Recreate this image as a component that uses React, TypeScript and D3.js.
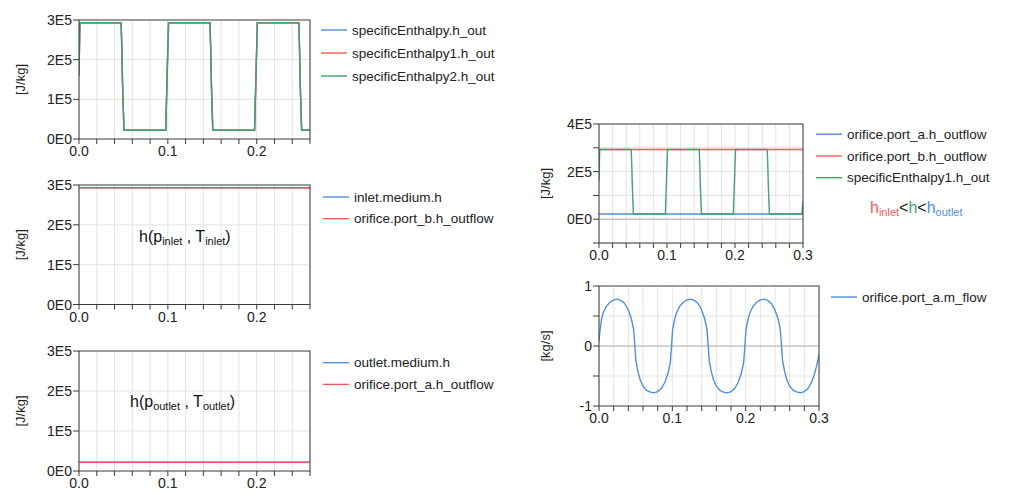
import React from 'react';
import * as d3 from 'd3';

// ---- data ----

// square-wave enthalpy (specificEnthalpy / specificEnthalpy1 / specificEnthalpy2 .h_out)
const squareTime = [
  0, 0.0005, 0.001,
  0.0474, 0.0482, 0.049, 0.0498, 0.0506,
  0.0976, 0.0984, 0.0992, 0.1, 0.1008,
  0.1474, 0.1482, 0.149, 0.1498, 0.1506,
  0.1976, 0.1984, 0.1992, 0.2, 0.2008,
  0.2474, 0.2482, 0.249, 0.2498, 0.2506,
  0.2985, 0.3,
];
const squareValues = [
  1.6e5, 2.3e5, 2.93e5,
  2.93e5, 2.3e5, 1.4e5, 0.8e5, 0.22e5,
  0.22e5, 0.9e5, 1.6e5, 2.3e5, 2.93e5,
  2.93e5, 2.3e5, 1.4e5, 0.8e5, 0.22e5,
  0.22e5, 0.9e5, 1.6e5, 2.3e5, 2.93e5,
  2.93e5, 2.3e5, 1.4e5, 0.8e5, 0.22e5,
  0.22e5, 0.75e5,
];

// constant enthalpies
const constTime = [0, 0.3];
const inletH = [2.93e5, 2.93e5];
const outletH = [0.22e5, 0.22e5];

// orifice.port_a.m_flow
const flowTime = [
  0, 0.001, 0.0035, 0.006, 0.01, 0.015, 0.02, 0.025, 0.03, 0.035, 0.04, 0.044, 0.0472, 0.0488, 0.0503,
  0.053, 0.056, 0.06, 0.065, 0.07, 0.075, 0.08, 0.085, 0.09, 0.094, 0.0972, 0.0988, 0.1003,
  0.103, 0.106, 0.11, 0.115, 0.12, 0.125, 0.13, 0.135, 0.14, 0.144, 0.1472, 0.1488, 0.1503,
  0.153, 0.156, 0.16, 0.165, 0.17, 0.175, 0.18, 0.185, 0.19, 0.194, 0.1972, 0.1988, 0.2003,
  0.203, 0.206, 0.21, 0.215, 0.22, 0.225, 0.23, 0.235, 0.24, 0.244, 0.2472, 0.2488, 0.2503,
  0.253, 0.256, 0.26, 0.265, 0.27, 0.275, 0.28, 0.285, 0.29, 0.294, 0.297, 0.3,
];
const flowValues = [
  0.08, 0.22, 0.45, 0.56, 0.66, 0.73, 0.77, 0.78, 0.76, 0.71, 0.6, 0.46, 0.28, 0.02, -0.24,
  -0.42, -0.56, -0.67, -0.74, -0.77, -0.78, -0.76, -0.71, -0.6, -0.46, -0.28, -0.02, 0.26,
  0.44, 0.56, 0.66, 0.73, 0.77, 0.78, 0.76, 0.71, 0.6, 0.46, 0.28, 0.02, -0.24,
  -0.42, -0.56, -0.67, -0.74, -0.77, -0.78, -0.76, -0.71, -0.6, -0.46, -0.28, -0.02, 0.26,
  0.44, 0.56, 0.66, 0.73, 0.77, 0.78, 0.76, 0.71, 0.6, 0.46, 0.28, 0.02, -0.24,
  -0.42, -0.56, -0.67, -0.74, -0.77, -0.78, -0.76, -0.71, -0.6, -0.46, -0.32, -0.15,
];

// tick labels
const hTicks = [0, 1e5, 2e5, 3e5];
const hTickLabels = ['0E0', '1E5', '2E5', '3E5'];
const hTicksRight = [0, 2e5, 4e5];
const hTickLabelsRight = ['0E0', '2E5', '4E5'];
const hMinorRight = [-1e5, 1e5, 3e5];
const flowTicks = [-1, 0, 1];
const flowTickLabels = ['-1', '0', '1'];
const flowMinor = [-0.5, 0.5];

const BLUE = '#4f8fdc';
const RED = '#f25b5b';
const GREEN = '#3ea46c';
const FONT = "'Liberation Sans', Arial, sans-serif";

type Series = { name: string; t: number[]; v: number[]; color: string };

interface PanelProps {
  id: string;
  left: number; right: number; top: number; bottom: number;
  xMax: number;
  xLabels: number[];
  yDomain: [number, number];
  yTicks: number[];
  yTickLabels: string[];
  yMinor?: number[];
  yGrid: number[];
  zeroLine?: boolean;
  yLabel: string;
  yLabelX: number;
  series: Series[];
  legendX: number;
  legendY: number;
  legendStep: number;
  children?: React.ReactNode;
}

function Panel(p: PanelProps) {
  const x = d3.scaleLinear().domain([0, p.xMax]).range([p.left, p.right]);
  const y = d3.scaleLinear().domain(p.yDomain).range([p.bottom, p.top]);
  const xGrid = d3.range(0, p.xMax + 1e-9, 0.02);
  const line = d3.line<[number, number]>().x(d => x(d[0])).y(d => y(d[1]));
  const fmt = d3.format('.1f');
  const cy = (p.top + p.bottom) / 2;

  return (
    <g>
      <defs>
        <clipPath id={`clip-${p.id}`}>
          <rect x={p.left} y={p.top - 1} width={p.right - p.left} height={p.bottom - p.top + 2} />
        </clipPath>
      </defs>
      {/* grid */}
      {xGrid.map(v => (
        <line key={'gx' + v} x1={x(v)} x2={x(v)} y1={p.top} y2={p.bottom} stroke="#e4e4e4" />
      ))}
      {p.yGrid.map(v => (
        <line key={'gy' + v} x1={p.left} x2={p.right} y1={y(v)} y2={y(v)}
          stroke={p.zeroLine && v === 0 ? '#c4c4c4' : '#e4e4e4'} strokeWidth={p.zeroLine && v === 0 ? 1.5 : 1} />
      ))}
      {/* series */}
      <g clipPath={`url(#clip-${p.id})`}>
        {p.series.map(s => (
          <path key={s.name} d={line(s.t.map((t, i) => [t, s.v[i]] as [number, number])) || ''}
            fill="none" stroke={s.color} strokeWidth={1.4} />
        ))}
      </g>
      {/* frame */}
      <rect x={p.left} y={p.top} width={p.right - p.left} height={p.bottom - p.top}
        fill="none" stroke="#3a3a3a" strokeWidth={1} />
      {/* x axis */}
      {xGrid.map(v => (
        <line key={'tx' + v} x1={x(v)} x2={x(v)} y1={p.bottom} y2={p.bottom + 5} stroke="#3a3a3a" />
      ))}
      {p.xLabels.map(v => (
        <text key={'lx' + v} x={x(v)} y={p.bottom + 17} textAnchor="middle" fontSize={14}
          fontFamily={FONT} fill="#222">{fmt(v)}</text>
      ))}
      {/* y axis */}
      {p.yTicks.concat(p.yMinor || []).map(v => (
        <line key={'ty' + v} x1={p.left - 6} x2={p.left} y1={y(v)} y2={y(v)} stroke="#3a3a3a" />
      ))}
      {p.yTicks.map((v, i) => (
        <text key={'ly' + v} x={p.left - 7} y={y(v)} dy="0.36em" textAnchor="end" fontSize={14}
          fontFamily={FONT} fill="#222">{p.yTickLabels[i]}</text>
      ))}
      <text transform={`translate(${p.yLabelX},${cy}) rotate(-90)`} textAnchor="middle" dy="0.35em"
        fontSize={13} fontFamily={FONT} fill="#222">{p.yLabel}</text>
      {/* legend */}
      {p.series.map((s, i) => (
        <g key={'lg' + s.name} transform={`translate(${p.legendX},${p.legendY + i * p.legendStep})`}>
          <line x1={0} x2={26} y1={0} y2={0} stroke={s.color} strokeWidth={1.4} />
          <text x={31} y={0} dy="0.35em" fontSize={13.5} fontFamily={FONT} fill="#222">{s.name}</text>
        </g>
      ))}
      {p.children}
    </g>
  );
}

export default function App() {
  const leftCommon = {
    left: 79, right: 310, xMax: 0.26, xLabels: [0, 0.1, 0.2],
    yDomain: [0, 3e5] as [number, number], yTicks: hTicks, yTickLabels: hTickLabels,
    yGrid: [1e5, 2e5], yLabel: '[J/kg]', yLabelX: 20,
  };
  return (
    <svg width={1024} height={498} style={{ position: 'absolute', left: 0, top: 0, background: '#fff' }}>
      <Panel id="p1" {...leftCommon} top={20} bottom={139}
        series={[
          { name: 'specificEnthalpy.h_out', t: squareTime, v: squareValues, color: BLUE },
          { name: 'specificEnthalpy1.h_out', t: squareTime, v: squareValues, color: RED },
          { name: 'specificEnthalpy2.h_out', t: squareTime, v: squareValues, color: GREEN },
        ]}
        legendX={321} legendY={30} legendStep={23} />
      <Panel id="p2" {...leftCommon} top={185} bottom={304.5}
        series={[
          { name: 'inlet.medium.h', t: constTime, v: inletH, color: BLUE },
          { name: 'orifice.port_b.h_outflow', t: constTime, v: inletH, color: RED },
        ]}
        legendX={323} legendY={197} legendStep={21.7}>
        <text x={139} y={242} fontSize={16} fontFamily={FONT} fill="#111">
          h(p<tspan fontSize={11} dy={3}>inlet</tspan><tspan dy={-3}> , T</tspan>
          <tspan fontSize={11} dy={3}>inlet</tspan><tspan dy={-3}>)</tspan>
        </text>
      </Panel>
      <Panel id="p3" {...leftCommon} top={351} bottom={471}
        series={[
          { name: 'outlet.medium.h', t: constTime, v: outletH, color: BLUE },
          { name: 'orifice.port_a.h_outflow', t: constTime, v: outletH, color: RED },
        ]}
        legendX={323} legendY={362.7} legendStep={21.7}>
        <text x={130} y={407} fontSize={16} fontFamily={FONT} fill="#111">
          h(p<tspan fontSize={11} dy={3}>outlet</tspan><tspan dy={-3}> , T</tspan>
          <tspan fontSize={11} dy={3}>outlet</tspan><tspan dy={-3}>)</tspan>
        </text>
      </Panel>
      <Panel id="p4" left={599} right={803} top={124} bottom={243} xMax={0.3} xLabels={[0, 0.1, 0.2, 0.3]}
        yDomain={[-1e5, 4e5]} yTicks={hTicksRight} yTickLabels={hTickLabelsRight} yMinor={hMinorRight}
        yGrid={[-1e5, 0, 1e5, 2e5, 3e5]} zeroLine yLabel="[J/kg]" yLabelX={545}
        series={[
          { name: 'orifice.port_a.h_outflow', t: constTime, v: outletH, color: BLUE },
          { name: 'orifice.port_b.h_outflow', t: constTime, v: inletH, color: RED },
          { name: 'specificEnthalpy1.h_out', t: squareTime, v: squareValues, color: GREEN },
        ]}
        legendX={816} legendY={134.3} legendStep={21.7}>
        <text x={870} y={213} fontSize={16} fontFamily={FONT}>
          <tspan fill={RED}>h</tspan><tspan fill={RED} fontSize={11} dy={3}>inlet</tspan>
          <tspan dy={-3} fill="#111">&lt;</tspan><tspan fill={GREEN}>h</tspan>
          <tspan fill="#111">&lt;</tspan><tspan fill={BLUE}>h</tspan>
          <tspan fill={BLUE} fontSize={11} dy={3}>outlet</tspan>
        </text>
      </Panel>
      <Panel id="p5" left={599} right={819} top={286} bottom={406} xMax={0.3} xLabels={[0, 0.1, 0.2, 0.3]}
        yDomain={[-1, 1]} yTicks={flowTicks} yTickLabels={flowTickLabels} yMinor={flowMinor}
        yGrid={[-0.5, 0, 0.5]} zeroLine yLabel="[kg/s]" yLabelX={545}
        series={[
          { name: 'orifice.port_a.m_flow', t: flowTime, v: flowValues, color: BLUE },
        ]}
        legendX={831} legendY={297} legendStep={21.7} />
    </svg>
  );
}
